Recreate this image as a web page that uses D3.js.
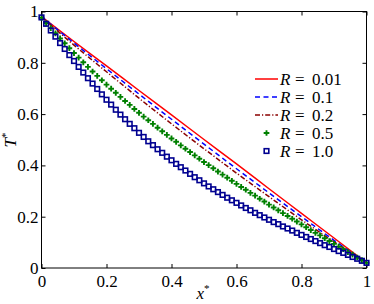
<!DOCTYPE html>
<html>
<head>
<meta charset="utf-8">
<script src="https://cdn.jsdelivr.net/npm/d3@7"></script>
<style>
  body { margin: 0; background: #fff; }
  svg { display: block; }
</style>
</head>
<body>
<svg id="chart" width="374" height="304"></svg>
<script>
// x positions of the line series
const xLine = [0, 0.1, 0.2, 0.3, 0.4, 0.5, 0.6, 0.7, 0.8, 0.9, 1.0];
// R = 0.01, 0.1, 0.2 (drawn as lines)
const tR001 = [0.980, 0.883, 0.788, 0.692, 0.597, 0.501, 0.406, 0.309, 0.213, 0.117, 0.020];
const tR01  = [0.980, 0.877, 0.777, 0.678, 0.580, 0.483, 0.387, 0.293, 0.200, 0.108, 0.020];
const tR02  = [0.979, 0.869, 0.765, 0.662, 0.562, 0.465, 0.370, 0.278, 0.188, 0.102, 0.020];

// R = 0.5 and R = 1.0 (drawn as markers, 71 points from 0 to 1)
const tR05 = [
  0.975, 0.955, 0.935, 0.915, 0.895, 0.876, 0.857,
  0.838, 0.820, 0.802, 0.784, 0.766, 0.749, 0.732,
  0.715, 0.699, 0.683, 0.667, 0.651, 0.636, 0.620,
  0.605, 0.590, 0.576, 0.562, 0.547, 0.533, 0.519,
  0.505, 0.492, 0.478, 0.465, 0.452, 0.439, 0.426,
  0.413, 0.401, 0.389, 0.376, 0.364, 0.352, 0.340,
  0.328, 0.316, 0.305, 0.293, 0.282, 0.270, 0.259,
  0.247, 0.236, 0.225, 0.214, 0.203, 0.192, 0.181,
  0.170, 0.159, 0.148, 0.137, 0.127, 0.116, 0.105,
  0.094, 0.083, 0.073, 0.062, 0.052, 0.041, 0.031,
  0.020
];
const tR10 = [
  0.977, 0.952, 0.926, 0.902, 0.877, 0.854, 0.830,
  0.807, 0.784, 0.762, 0.740, 0.719, 0.698, 0.677,
  0.656, 0.637, 0.617, 0.598, 0.580, 0.562, 0.545,
  0.527, 0.511, 0.494, 0.479, 0.463, 0.449, 0.434,
  0.420, 0.406, 0.393, 0.380, 0.367, 0.354, 0.342,
  0.330, 0.318, 0.307, 0.296, 0.285, 0.274, 0.264,
  0.254, 0.244, 0.234, 0.225, 0.215, 0.206, 0.197,
  0.188, 0.179, 0.171, 0.162, 0.154, 0.146, 0.137,
  0.129, 0.121, 0.113, 0.105, 0.097, 0.089, 0.082,
  0.074, 0.066, 0.059, 0.051, 0.043, 0.036, 0.028,
  0.020
];
const xMarker = d3.range(tR10.length).map(i => i / (tR10.length - 1));

const tickValues = [0, 0.2, 0.4, 0.6, 0.8, 1];
const tickLabels = ["0", "0.2", "0.4", "0.6", "0.8", "1"];
const legendLabels = ["0.01", "0.1", "0.2", "0.5", "1.0"];

const svg = d3.select("#chart");
const plotLeft = 41.5, plotRight = 366.5, plotTop = 11.5, plotBottom = 268;
const serif = '"Liberation Serif"';

const x = d3.scaleLinear().domain([0, 1]).range([plotLeft, plotRight]);
const y = d3.scaleLinear().domain([0, 1]).range([plotBottom, plotTop]);

const fmt = d => tickLabels[tickValues.indexOf(d)];

// axes, ticks pointing inward
svg.append("g")
    .attr("transform", `translate(0,${plotBottom})`)
    .call(d3.axisBottom(x).tickValues(tickValues).tickFormat(fmt).tickSize(-4).tickPadding(7))
    .call(g => g.select(".domain").remove())
    .call(g => g.selectAll("text").attr("font-size", 17).style("font-family", serif));

svg.append("g")
    .attr("transform", `translate(${plotLeft},0)`)
    .call(d3.axisLeft(y).tickValues(tickValues).tickFormat(fmt).tickSize(-4).tickPadding(3))
    .call(g => g.select(".domain").remove())
    .call(g => g.selectAll("text").attr("font-size", 17).style("font-family", serif));

svg.append("g")
    .attr("transform", `translate(0,${plotTop})`)
    .call(d3.axisTop(x).tickValues(tickValues).tickFormat("").tickSize(-4))
    .call(g => g.select(".domain").remove());

svg.append("g")
    .attr("transform", `translate(${plotRight},0)`)
    .call(d3.axisRight(y).tickValues(tickValues).tickFormat("").tickSize(-4))
    .call(g => g.select(".domain").remove());

svg.append("rect")
    .attr("x", plotLeft).attr("y", plotTop)
    .attr("width", plotRight - plotLeft).attr("height", plotBottom - plotTop)
    .attr("fill", "none").attr("stroke", "#000").attr("stroke-width", 1);

// curves
const line = d3.line()
    .x(d => x(d[0]))
    .y(d => y(d[1]))
    .curve(d3.curveMonotoneX);

const lineSeries = [
  { t: tR001, color: "#ff0000", dash: null },
  { t: tR01,  color: "#0000ff", dash: "5,3.5" },
  { t: tR02,  color: "#8b0000", dash: "5,2,1.2,2" }
];

lineSeries.forEach(s => {
  svg.append("path")
      .datum(xLine.map((v, i) => [v, s.t[i]]))
      .attr("d", line)
      .attr("fill", "none")
      .attr("stroke", s.color)
      .attr("stroke-width", 1.5)
      .attr("stroke-dasharray", s.dash);
});

const green = "#008000", navy = "#000090";
const star = d3.symbol().type(d3.symbolCross).size(18);

svg.append("g").selectAll("path")
    .data(xMarker.map((v, i) => [v, tR05[i]]))
    .join("path")
    .attr("transform", d => `translate(${x(d[0])},${y(d[1])})`)
    .attr("d", star)
    .attr("fill", green);

svg.append("g").selectAll("rect")
    .data(xMarker.map((v, i) => [v, tR10[i]]))
    .join("rect")
    .attr("x", d => x(d[0]) - 2.3)
    .attr("y", d => y(d[1]) - 2.3)
    .attr("width", 4.6).attr("height", 4.6)
    .attr("fill", "none")
    .attr("stroke", navy)
    .attr("stroke-width", 1.6);

// axis labels
const xl = svg.append("text")
    .attr("x", 203).attr("y", 299)
    .attr("text-anchor", "middle")
    .attr("font-size", 17)
    .style("font-family", serif);
xl.append("tspan").attr("font-style", "italic").text("x");
xl.append("tspan").attr("font-size", 11).attr("dy", -7).text("*");

const yl = svg.append("text")
    .attr("transform", "translate(16,140) rotate(-90)")
    .attr("text-anchor", "middle")
    .attr("font-size", 17)
    .style("font-family", serif);
yl.append("tspan").attr("font-style", "italic").text("T");
yl.append("tspan").attr("font-size", 11).attr("dy", -7).text("*");

// legend
const legend = svg.append("g");
legendLabels.forEach((lab, i) => {
  const ly = 79 + i * 18;
  if (i < 3) {
    const s = lineSeries[i];
    legend.append("line")
        .attr("x1", 255).attr("x2", 278)
        .attr("y1", ly).attr("y2", ly)
        .attr("stroke", s.color)
        .attr("stroke-width", 1.5)
        .attr("stroke-dasharray", s.dash);
  } else if (i === 3) {
    legend.append("path")
        .attr("transform", `translate(266.5,${ly})`)
        .attr("d", star)
        .attr("fill", green);
  } else {
    legend.append("rect")
        .attr("x", 264.2).attr("y", ly - 2.3)
        .attr("width", 4.6).attr("height", 4.6)
        .attr("fill", "none")
        .attr("stroke", navy)
        .attr("stroke-width", 1.6);
  }
  const t = legend.append("text")
      .attr("y", ly + 6)
      .attr("font-size", 17)
      .style("font-family", serif);
  t.append("tspan").attr("x", 280).attr("font-style", "italic").text("R");
  t.append("tspan").attr("x", 295).text("=");
  t.append("tspan").attr("x", 312).text(lab);
});
</script>
</body>
</html>
